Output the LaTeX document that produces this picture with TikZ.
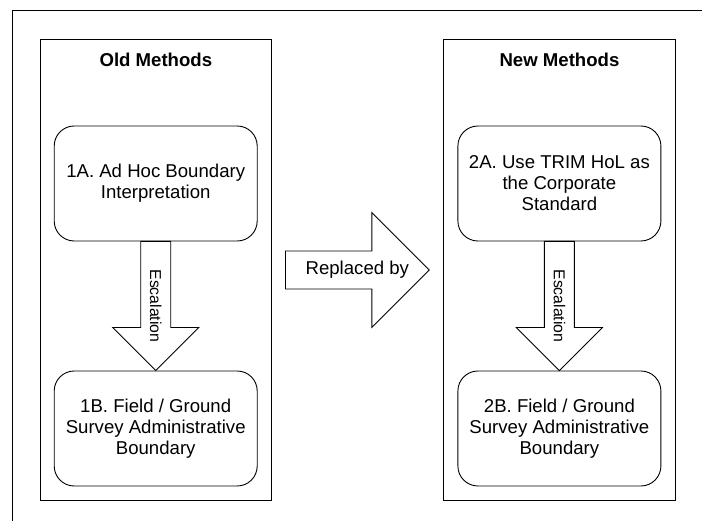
\documentclass[tikz,border=0pt]{standalone}
\usepackage{fontspec}
\setmainfont{Liberation Sans}
\usetikzlibrary{calc}

\tikzset{
    panel/.style={draw, line width=1pt, minimum width=231.7pt, minimum height=460pt},
    paneltitle/.style={font=\fontsize{18.6}{21}\selectfont\bfseries, anchor=base},
    method/.style={draw, line width=0.9pt, rounded corners=20pt, minimum width=203pt,
        minimum height=115pt, align=center, font=\fontsize{18.6}{21}\selectfont},
    blockarrow/.style={draw, fill=white, line width=0.9pt},
    arrowtext/.style={font=\fontsize{18.6}{21}\selectfont},
    escalation/.style={font=\fontsize{15.8}{18}\selectfont, rotate=-90}
}

\begin{document}
\begin{tikzpicture}[x=1pt, y=-1pt]
            \useasboundingbox (0,0) rectangle (702,521);
            \draw[line width=1pt] (12,521) -- (12,11) -- (702,11);

            \node[panel] (old) at (155.85,270) {};
            \node[panel] (new) at (559.5,270) {};
            \node[paneltitle] (oldtitle) at ($(old.north)+(0,27)$) {Old Methods};
            \node[paneltitle] (newtitle) at ($(new.north)+(0,27)$) {New Methods};

            \node[method] (a1) at (155.7,183.5) {1A. Ad Hoc Boundary\\Interpretation};
            \node[method] (b1) at (155.7,428.5) {1B. Field / Ground\\Survey Administrative\\Boundary};
            \node[method] (a2) at (559.4,183.5) {2A. Use TRIM HoL as\\the Corporate\\Standard};
            \node[method] (b2) at (559.4,428.5) {2B. Field / Ground\\Survey Administrative\\Boundary};

            % escalation arrows
            \draw[blockarrow] ($(a1.south)+(-15,0)$) -- ($(b1.north)+(-15,-43)$) -- ($(b1.north)+(-43,-43)$)
                -- (b1.north) -- ($(b1.north)+(43,-43)$) -- ($(b1.north)+(15,-43)$) -- ($(a1.south)+(15,0)$) -- cycle;
            \node[escalation] (esc1) at ($(a1.south)!0.5!(b1.north)$) {Escalation};
            \draw[blockarrow] ($(a2.south)+(-15,0)$) -- ($(b2.north)+(-15,-43)$) -- ($(b2.north)+(-43,-43)$)
                -- (b2.north) -- ($(b2.north)+(43,-43)$) -- ($(b2.north)+(15,-43)$) -- ($(a2.south)+(15,0)$) -- cycle;
            \node[escalation] (esc2) at ($(a2.south)!0.5!(b2.north)$) {Escalation};

            % replaced by
            \coordinate (rfrom) at ($(old.east)+(13.3,0)$);
            \coordinate (rto) at ($(new.west)+(-14,0)$);
            \draw[blockarrow] ($(rfrom)+(0,-19)$) -- ($(rto)+(-57.3,-19)$) -- ($(rto)+(-57.3,-57.3)$) -- (rto)
                -- ($(rto)+(-57.3,57.3)$) -- ($(rto)+(-57.3,19)$) -- ($(rfrom)+(0,19)$) -- cycle;
            \node[arrowtext] (replaced) at ($(rfrom)!0.5!(rto)$) {Replaced by};
        \end{tikzpicture}
\end{document}
